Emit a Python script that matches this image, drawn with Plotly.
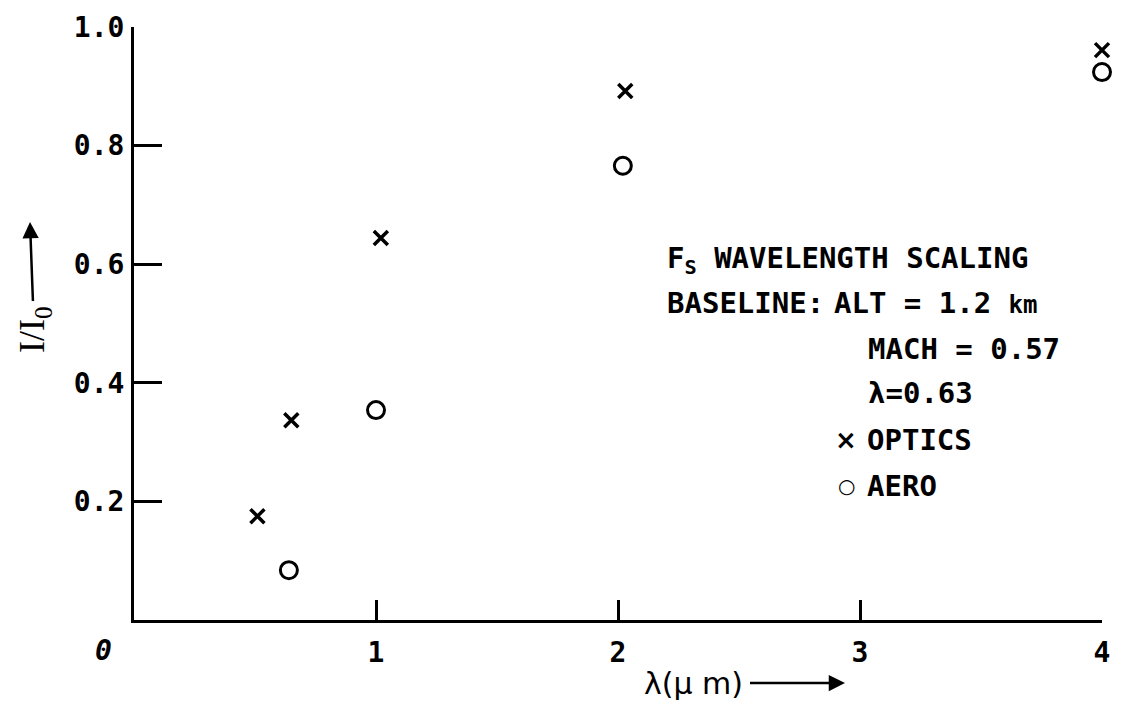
import plotly.graph_objects as go

# ---- data ----
optics_x = [0.51, 0.65, 1.02, 2.03, 4.0]
optics_y = [0.175, 0.337, 0.644, 0.892, 0.961]
aero_x = [0.64, 1.00, 2.02, 4.0]
aero_y = [0.084, 0.354, 0.766, 0.924]
x_ticks = [1, 2, 3, 4]
x_ticktext = ["1", "2", "3", "4"]
y_ticks = [0.2, 0.4, 0.6, 0.8, 1.0]
y_ticktext = ["0.2", "0.4", "0.6", "0.8", "1.0"]

W, H = 1128, 705
L, R, T, B = 134, 26, 27, 85
PW, PH = W - L - R, H - T - B


def px(xp):
    return (xp - L) / PW


def py(yp):
    return (H - B - yp) / PH


MONO = "DejaVu Sans Mono"
fig = go.Figure()
fig.add_trace(go.Scatter(x=optics_x, y=optics_y, mode="markers", name="OPTICS",
                         cliponaxis=False,
                         marker=dict(symbol="x-thin-open", size=14,
                                     line=dict(color="black", width=3.5), color="black")))
fig.add_trace(go.Scatter(x=aero_x, y=aero_y, mode="markers", name="AERO",
                         cliponaxis=False,
                         marker=dict(symbol="circle-open", size=17,
                                     line=dict(color="black", width=3), color="black")))

tickfont = dict(family=MONO, size=28, color="black", weight=700)
fig.update_layout(
    width=W, height=H, margin=dict(l=L, r=R, t=T, b=B),
    paper_bgcolor="white", plot_bgcolor="white", showlegend=False,
    xaxis=dict(range=[0, 4], showgrid=False, zeroline=False, showline=True,
               linecolor="black", linewidth=3, ticks="inside", ticklen=20,
               tickwidth=2.5, tickcolor="black", tickvals=x_ticks, ticktext=x_ticktext,
               tickfont=tickfont, ticklabelstandoff=5),
    yaxis=dict(range=[0, 1], showgrid=False, zeroline=False, showline=True,
               linecolor="black", linewidth=3, ticks="inside", ticklen=28,
               tickwidth=2.5, tickcolor="black", tickvals=y_ticks, ticktext=y_ticktext,
               tickfont=tickfont, ticklabelstandoff=1),
)

ann = []


def text(s, xp, yp, size=29, family=MONO, anchor="left", weight=700, **kw):
    ann.append(dict(text=s, x=px(xp), y=py(yp), xref="paper", yref="paper",
                    xanchor=anchor, yanchor="middle", showarrow=False,
                    font=dict(family=family, size=size, color="black", weight=weight), **kw))


# origin label
text("<i>0</i>", 103, 650, size=28, anchor="center", family=MONO)

# annotation block
text("F<sub>S</sub> WAVELENGTH SCALING", 665, 260)
text("BASELINE:", 665, 303)
text("ALT = 1.2 <span style='font-size:24px'>km</span>", 832, 303)
text("MACH = 0.57", 866, 349)
text("λ=0.63", 866, 393)
text("×", 846, 440, anchor="center", size=26, family="DejaVu Sans")
text("OPTICS", 865, 440)
text("○", 846, 486, anchor="center", size=20, family="DejaVu Sans")
text("AERO", 865, 486)

# axis titles with arrows (head at x/y, text offset by ax/ay)
ann.append(dict(text="λ(μ m)", x=px(845), y=py(683), xref="paper", yref="paper",
                showarrow=True, ax=-152, ay=0, arrowhead=2, arrowsize=1.3,
                arrowwidth=2.5, arrowcolor="black", standoff=0, startstandoff=6,
                font=dict(family="DejaVu Sans", size=30, color="black")))
ann.append(dict(text="I/I<sub>0</sub>", x=px(30), y=py(222), xref="paper", yref="paper",
                showarrow=True, ax=4, ay=108, textangle=-90, arrowhead=2, arrowsize=1.3,
                arrowwidth=2.5, arrowcolor="black", standoff=0, startstandoff=4,
                font=dict(family="Liberation Serif", size=36, color="black")))

fig.update_layout(annotations=ann)
fig.write_html("out.html")
